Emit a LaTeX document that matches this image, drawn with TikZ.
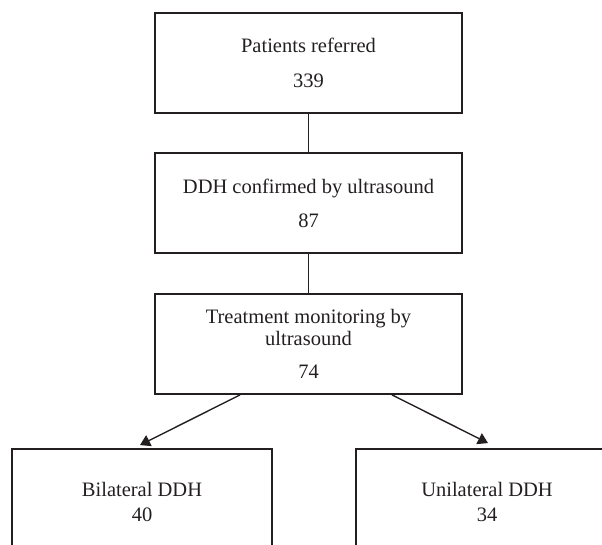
\documentclass[tikz,border=0pt]{standalone}
\usepackage{fontspec}
\setmainfont{Liberation Serif}
\usetikzlibrary{arrows.meta}
\definecolor{ink}{HTML}{231F20}
\begin{document}
\begin{tikzpicture}[x=1pt,y=1pt,
  box/.style={draw=ink, line width=1.8pt, minimum width=307pt, minimum height=100pt,
    inner sep=0pt, align=center, font=\fontsize{20.5}{22}\selectfont, text=ink},
  link/.style={draw=ink, line width=1.4pt},
  arr/.style={link, -{Triangle[length=10pt,width=12pt]}}]
\useasboundingbox (0,0) rectangle (602,-545);
\clip (0,0) rectangle (602,-545);
\node[box] (b1) at (308.5,-63) {Patients referred\\[13pt]339};
\node[box] (b2) at (308.5,-203) {DDH confirmed by ultrasound\\[12pt]87};
\node[box] (b3) at (308.5,-344) {Treatment monitoring by\\ultrasound\\[11pt]74};
\node[box, minimum width=260pt, minimum height=106pt] (b4) at (142,-502) {Bilateral DDH\\[3pt]40};
\node[box, minimum width=262pt, minimum height=106pt] (b5) at (487,-502) {Unilateral DDH\\[3pt]34};
\draw[link] (b1.south) -- (b2.north);
\draw[link] (b2.south) -- (b3.north);
\draw[arr] ([xshift=-68.5pt]b3.south) -- ([xshift=-2pt,yshift=3pt]b4.north);
\draw[arr] ([xshift=83.5pt]b3.south) -- ([xshift=1pt,yshift=5pt]b5.north);
\end{tikzpicture}
\end{document}
